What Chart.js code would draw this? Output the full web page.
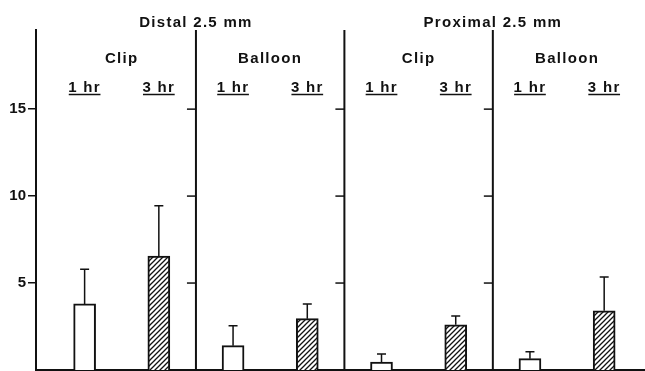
<!DOCTYPE html>
<html>
<head>
<meta charset="utf-8">
<script src="https://cdn.jsdelivr.net/npm/chart.js@4"></script>
<style>
  body { margin: 0; background: #fff; }
</style>
</head>
<body>
<canvas id="chart" width="645" height="371"></canvas>
<script>
// data
const groups = ['Distal 2.5 mm', 'Proximal 2.5 mm'];
const methods = ['Clip', 'Balloon', 'Clip', 'Balloon'];
const times = ['1 hr', '3 hr'];
const oneHr = [3.8, 1.4, 0.45, 0.65];
const oneHrErr = [2.0, 1.15, 0.47, 0.4];
const threeHr = [6.55, 2.95, 2.6, 3.4];
const threeHrErr = [2.9, 0.85, 0.5, 1.95];
const yTicks = [5, 10, 15];

const INK = '#111';
const FONT = "bold 15px 'Liberation Sans', Arial, sans-serif";

function hatch() {
  const c = document.createElement('canvas');
  c.width = 5;
  c.height = 5;
  const g = c.getContext('2d');
  g.fillStyle = '#fff';
  g.fillRect(0, 0, 5, 5);
  g.strokeStyle = INK;
  g.lineWidth = 1.3;
  g.beginPath();
  g.moveTo(0, 5); g.lineTo(5, 0);
  g.moveTo(-1, 1); g.lineTo(1, -1);
  g.moveTo(4, 6); g.lineTo(6, 4);
  g.stroke();
  return g.createPattern(c, 'repeat');
}

// 1 hr bars at even slots, 3 hr bars at odd slots
const points1 = oneHr.map((v, i) => ({ x: 2 * i, y: v, err: oneHrErr[i] }));
const points3 = threeHr.map((v, i) => ({ x: 2 * i + 1, y: v, err: threeHrErr[i] }));

const panelPlugin = {
  id: 'panels',
  afterDatasetsDraw(chart) {
    const c = chart.ctx;
    const xs = chart.scales.x;
    const ys = chart.scales.y;
    c.save();
    c.strokeStyle = INK;
    c.lineWidth = 1.5;
    chart.data.datasets.forEach((ds) => {
      ds.data.forEach((p) => {
        const x = xs.getPixelForValue(p.x);
        const y0 = ys.getPixelForValue(p.y);
        const y1 = ys.getPixelForValue(p.y + p.err);
        c.beginPath();
        c.moveTo(x, y0);
        c.lineTo(x, y1);
        c.moveTo(x - 4.5, y1);
        c.lineTo(x + 4.5, y1);
        c.stroke();
      });
    });
    c.restore();
  },
  afterDraw(chart) {
    const c = chart.ctx;
    const xs = chart.scales.x;
    const ys = chart.scales.y;
    const area = chart.chartArea;
    c.save();
    c.strokeStyle = INK;

    // panel dividers with their own tick marks
    [1.5, 3.5, 5.5].forEach((d) => {
      const x = xs.getPixelForValue(d);
      c.lineWidth = 2;
      c.beginPath();
      c.moveTo(x, area.top);
      c.lineTo(x, area.bottom);
      c.stroke();
      c.lineWidth = 1.5;
      yTicks.forEach((t) => {
        const y = ys.getPixelForValue(t);
        c.beginPath();
        c.moveTo(x - 9, y);
        c.lineTo(x, y);
        c.stroke();
      });
    });

    c.fillStyle = INK;
    c.font = FONT;
    c.letterSpacing = '1.3px';
    c.textAlign = 'center';
    c.textBaseline = 'alphabetic';

    groups.forEach((g, i) => {
      c.fillText(g, xs.getPixelForValue(4 * i + 1.5), 27);
    });
    methods.forEach((m, i) => {
      c.fillText(m, xs.getPixelForValue(2 * i + 0.5), 63);
    });
    c.lineWidth = 1.5;
    for (let i = 0; i < methods.length; i++) {
      times.forEach((t, j) => {
        const x = xs.getPixelForValue(2 * i + j);
        c.fillText(t, x, 92);
        const w = c.measureText(t).width - 1;
        c.beginPath();
        c.moveTo(x - w / 2, 94.5);
        c.lineTo(x + w / 2, 94.5);
        c.stroke();
      });
    }
    c.restore();
  },
};

function drawChart() {
  const ctx = document.getElementById('chart');

  new Chart(ctx, {
    type: 'bar',
    data: {
      datasets: [
        {
          label: times[0],
          data: points1,
          backgroundColor: '#fff',
          borderColor: INK,
          borderWidth: 2,
          barThickness: 22,
          grouped: false,
        },
        {
          label: times[1],
          data: points3,
          backgroundColor: hatch(),
          borderColor: INK,
          borderWidth: 2,
          barThickness: 22,
          grouped: false,
        },
      ],
    },
    options: {
      responsive: false,
      animation: false,
      layout: {
        padding: { top: 30, right: 0, bottom: 1, left: 0 },
      },
      plugins: {
        legend: { display: false },
        tooltip: { enabled: false },
      },
      scales: {
        x: {
          type: 'linear',
          min: -0.655,
          max: 7.55,
          offset: false,
          grid: { display: false },
          ticks: { display: false },
          border: { color: INK, width: 2 },
          afterFit: (scale) => {
            scale.height = 0;
          },
        },
        y: {
          min: 0,
          max: 19.55,
          afterBuildTicks: (scale) => {
            scale.ticks = yTicks.map((v) => ({ value: v }));
          },
          afterFit: (scale) => {
            scale.width = 36;
            scale.paddingTop = 0;
            scale.paddingBottom = 0;
          },
          grid: {
            drawOnChartArea: false,
            tickLength: 8,
            color: INK,
            lineWidth: 1.5,
          },
          border: { color: INK, width: 2 },
          ticks: {
            color: INK,
            padding: 2,
            font: { family: "'Liberation Sans', Arial, sans-serif", size: 15, weight: 'bold' },
          },
        },
      },
    },
    plugins: [panelPlugin],
  });
}

drawChart();
</script>
</body>
</html>
